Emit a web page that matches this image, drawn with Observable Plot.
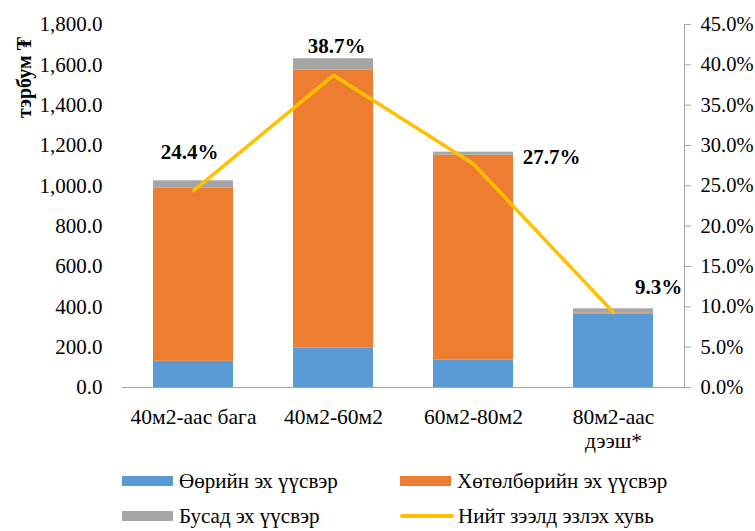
<!DOCTYPE html>
<html>
<head>
<meta charset="utf-8">
<script src="https://cdn.jsdelivr.net/npm/d3@7"></script>
<script src="https://cdn.jsdelivr.net/npm/@observablehq/plot@0.6"></script>
<style>
  html, body { margin: 0; padding: 0; background: #fff; }
  #wrap { width: 755px; height: 531px; overflow: hidden; position: relative; font-family: "Liberation Serif", "DejaVu Serif", "Times New Roman", serif; }
  #wrap svg, #wrap svg text { font-family: "Liberation Serif", "DejaVu Serif", "Times New Roman", serif; }
  #legend { display: grid; grid-template-columns: 278px 340px; margin-left: 122px; row-gap: 11px; margin-top: 17px; }
  .item { display: flex; align-items: center; font-size: 21px; line-height: 24px; color: #000; height: 24px; white-space: nowrap; }
  .sw { width: 51px; height: 10px; margin-right: 6px; flex: none; }
  .ln { width: 54px; height: 4px; border-radius: 2px; margin-right: 4px; flex: none; }
</style>
</head>
<body>
<div id="wrap"></div>
<script>
const categories = ["40м2-аас бага", "40м2-60м2", "60м2-80м2", "80м2-аас\nдээш*"];
const seriesNames = ["Өөрийн эх үүсвэр", "Хөтөлбөрийн эх үүсвэр", "Бусад эх үүсвэр"];
const ownSource = [130, 195, 135, 365];
const programSource = [860, 1378, 1017, 5];
const otherSource = [35, 57, 15, 20];
const loanShare = [24.4, 38.7, 27.7, 9.3];
const leftTicks = [0, 200, 400, 600, 800, 1000, 1200, 1400, 1600, 1800];
const rightTicks = [0, 5, 10, 15, 20, 25, 30, 35, 40, 45];
const lineName = "Нийт зээлд эзлэх хувь";
const yTitle = "тэрбум ₮";
const colors = ["#5B9BD5", "#ED7D31", "#A5A5A5"];
const lineColor = "#FFC000";
const serif = "'Liberation Serif', 'DejaVu Serif', 'Times New Roman', serif";

const ratio = 1800 / 45;
const stacked = [];
[ownSource, programSource, otherSource].forEach((arr, s) => {
  arr.forEach((v, i) => stacked.push({cat: categories[i], series: seriesNames[s], value: v}));
});
const linePts = loanShare.map((p, i) => ({cat: categories[i], y: p * ratio, label: p.toFixed(1) + "%", i}));
const labelOffsets = [[-4, -38], [3, -29], [78, -7], [45, -25]];

const plot = Plot.plot({
  width: 755,
  height: 452,
  marginTop: 24,
  marginBottom: 65,
  marginLeft: 122,
  marginRight: 71,
  style: {fontFamily: serif, fontSize: "21px", color: "#000", background: "#fff", overflow: "visible"},
  x: {domain: categories, paddingInner: 0.43, paddingOuter: 0.215, label: null},
  y: {domain: [0, 1800], label: null},
  color: {domain: seriesNames, range: colors},
  marks: [
    Plot.axisX({tickSize: 0, tickPadding: 19, label: null, fontSize: 21.5, lineHeight: 1.12}),
    Plot.axisY({ticks: leftTicks, tickSize: 0, tickPadding: 20, tickFormat: d3.format(",.1f"), label: null, fontSize: 21}),
    Plot.axisY(rightTicks.map(t => t * ratio), {anchor: "right", tickSize: 6, tickPadding: 10, stroke: "#a6a6a6",
      tickFormat: d => (d / ratio).toFixed(1) + "%", label: null, fontSize: 20.5, fill: "#000"}),
    Plot.frame({anchor: "right", stroke: "#a6a6a6", strokeWidth: 1}),
    Plot.barY(stacked, {x: "cat", y: "value", fill: "series", order: seriesNames}),
    Plot.ruleY([0], {stroke: "#a6a6a6", strokeWidth: 1}),
    Plot.line(linePts, {x: "cat", y: "y", stroke: lineColor, strokeWidth: 3.5}),
    ...linePts.map((d, k) => Plot.text([d], {x: "cat", y: "y", text: "label", dx: labelOffsets[k][0], dy: labelOffsets[k][1],
      fontWeight: "bold", fontSize: 21, fill: "#000"})),
    Plot.text([yTitle], {frameAnchor: "top-left", textAnchor: "middle", dx: -106, dy: 53, rotate: -90, fontWeight: "bold", fontSize: 20, fill: "#000"})
  ]
});
document.getElementById("wrap").appendChild(plot);

const legend = document.createElement("div");
legend.id = "legend";
const items = [
  {name: seriesNames[0], type: "sw", color: colors[0]},
  {name: seriesNames[1], type: "sw", color: colors[1]},
  {name: seriesNames[2], type: "sw", color: colors[2]},
  {name: lineName, type: "ln", color: lineColor}
];
items.forEach(it => {
  const d = document.createElement("div");
  d.className = "item";
  const s = document.createElement("span");
  s.className = it.type;
  s.style.background = it.color;
  d.appendChild(s);
  const t = document.createElement("span");
  t.textContent = it.name;
  d.appendChild(t);
  legend.appendChild(d);
});
document.getElementById("wrap").appendChild(legend);
</script>
</body>
</html>
